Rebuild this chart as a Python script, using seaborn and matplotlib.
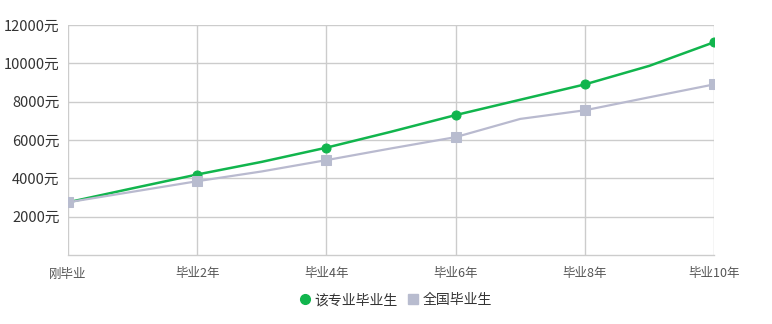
import matplotlib
matplotlib.use("Agg")
import matplotlib.pyplot as plt
import seaborn as sns
import pandas as pd
from matplotlib.lines import Line2D

years = list(range(11))
major_salary = [2750, 3480, 4200, 4860, 5600, 6430, 7300, 8100, 8900, 9870, 11100]
national_salary = [2750, 3300, 3850, 4360, 4950, 5560, 6150, 7100, 7550, 8230, 8900]
tick_years = [0, 2, 4, 6, 8, 10]
tick_labels = ["刚毕业", "毕业2年", "毕业4年", "毕业6年", "毕业8年", "毕业10年"]
y_ticks = [2000, 4000, 6000, 8000, 10000, 12000]
series_names = ["该专业毕业生", "全国毕业生"]

sns.set_theme(style="white")
plt.rcParams['font.family'] = ['Noto Sans CJK SC', 'DejaVu Sans']

green = "#11b54d"
grey_line = "#b9bacf"
grey_mark = "#b8bccf"

df = pd.DataFrame({
    "year": years * 2,
    "salary": major_salary + national_salary,
    "series": [series_names[0]] * len(years) + [series_names[1]] * len(years),
})

fig = plt.figure(figsize=(7.72, 3.24), dpi=100)
ax = fig.add_axes([68/772, 1 - 255/324, (714-68)/772, (255-25)/324])

sns.lineplot(data=df[df.series == series_names[0]], x="year", y="salary", ax=ax,
             color=green, lw=1.8, marker="o", markersize=6.5,
             markerfacecolor=green, markeredgecolor=green,
             markevery=2, zorder=3, legend=False)
sns.lineplot(data=df[df.series == series_names[1]], x="year", y="salary", ax=ax,
             color=grey_line, lw=1.6, marker="s", markersize=6.5,
             markerfacecolor=grey_mark, markeredgecolor=grey_mark,
             markevery=2, zorder=4, legend=False)

ax.set_xlim(0, 10)
ax.set_ylim(0, 12000)
ax.set_xticks(tick_years)
ax.set_xticklabels(tick_labels, fontsize=9, color="#555555")
ax.set_yticks(y_ticks)
ax.set_yticklabels([f"{v}元" for v in y_ticks], fontsize=10.5, color="#333333")
ax.tick_params(axis="both", length=0, pad=6)
ax.tick_params(axis="x", pad=9)
ax.grid(True, color="#cccccc", lw=1)
ax.set_xlabel("")
ax.set_ylabel("")
for s in ["top", "right", "left"]:
    ax.spines[s].set_visible(False)
ax.spines["bottom"].set_color("#cccccc")
ax.spines["bottom"].set_linewidth(1)

handles = [
    Line2D([], [], ls="", marker="o", color=green, markersize=7),
    Line2D([], [], ls="", marker="s", color=grey_mark, markersize=7),
]
fig.legend(handles, series_names, loc="center", bbox_to_anchor=(395/772, 1 - 300/324),
           ncol=2, frameon=False, fontsize=10, handletextpad=0.2, columnspacing=0.6,
           labelcolor="#333333", handlelength=1.0)

fig.savefig("out.png", dpi=100, facecolor="white")
